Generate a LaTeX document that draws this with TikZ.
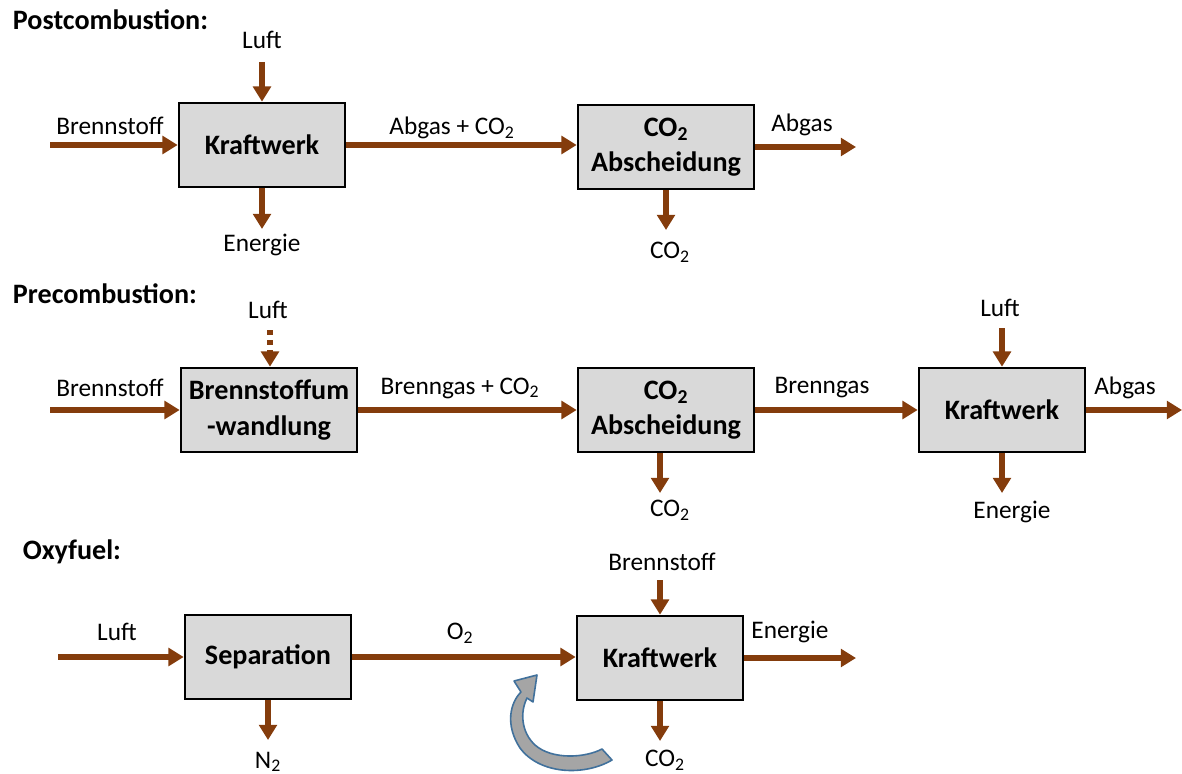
\documentclass[tikz,border=0pt]{standalone}
\usepackage{fontspec}
\setmainfont{Carlito}
\usetikzlibrary{arrows.meta}

\definecolor{flowbrown}{HTML}{843C0C}
\definecolor{boxgray}{HTML}{D9D9D9}
\definecolor{turngray}{HTML}{A5A5A5}
\definecolor{turnblue}{HTML}{41719C}

\begin{document}
\begin{tikzpicture}[%
        x = 0.025cm,
        y = -0.025cm,
        flow/.style = {
            draw = flowbrown,
            line width = 1.3mm,
            -{Triangle[width = 4.4mm, length = 3.8mm]}
        },
        block/.style = {
            draw,
            line width = 0.65mm,
            fill = boxgray,
            minimum width = 4.15cm,
            minimum height = 2.1cm,
            align = center,
            font = \fontsize{20}{25}\selectfont\bfseries
        },
        wideblock/.style = {block, minimum width = 4.4cm},
        label/.style = {font = \fontsize{18}{22}\selectfont},
        heading/.style = {anchor = west, font = \fontsize{20}{24}\selectfont\bfseries}
    ]

        \useasboundingbox (0, 0) rectangle (1182, 774);

        % Postcombustion.
        \node[heading] (head1) at (8, 20) {Postcombustion:};
        \node[block] (kw1) at (262, 145) {Kraftwerk};
        \node[wideblock] (ab1) at (666, 147) {CO\textsubscript{2}\\Abscheidung};

        \coordinate (in1) at (50, 145);
        \coordinate (luft1) at (262, 62);
        \coordinate (en1) at (262, 229);
        \coordinate (out1) at (856, 147);
        \coordinate (co1) at (666, 230);

        \draw[flow] (in1) to (kw1.west);
        \draw[flow] (luft1) to (kw1.north);
        \draw[flow] (kw1.south) to (en1);
        \draw[flow] (kw1.east) to (kw1.east -| ab1.west);
        \draw[flow] (ab1.east) to (out1);
        \draw[flow] (ab1.south) to (co1);

        \node[label] (l1a) at (110, 126) {Brennstoff};
        \node[label] (l1b) at (262, 40) {Luft};
        \node[label] (l1c) at (262, 245) {Energie};
        \node[label] (l1d) at (452, 128) {Abgas + CO\textsubscript{2}};
        \node[label] (l1e) at (802, 125) {Abgas};
        \node[label] (l1f) at (670, 252) {CO\textsubscript{2}};

        % Precombustion.
        \node[heading] (head2) at (8, 294) {Precombustion:};
        \node[wideblock] (wd2) at (269, 410) {Brennstoffum\\-wandlung};
        \node[wideblock] (ab2) at (666, 410) {CO\textsubscript{2}\\Abscheidung};
        \node[block] (kw2) at (1002, 410) {Kraftwerk};

        \coordinate (in2) at (50, 410);
        \coordinate (luft2) at (270, 330);
        \coordinate (co2) at (660, 493);
        \coordinate (luft3) at (1002, 328);
        \coordinate (en2) at (1002, 493);
        \coordinate (out2) at (1182, 410);

        \draw[flow] (in2) to (wd2.west);
        \draw[flow, dash pattern = on 1.3mm off 1.2mm] (luft2) to (luft2 |- wd2.north);
        \draw[flow] (wd2.east) to (ab2.west);
        \draw[flow] (ab2.south -| co2) to (co2);
        \draw[flow] (ab2.east) to (kw2.west);
        \draw[flow] (luft3) to (kw2.north);
        \draw[flow] (kw2.south) to (en2);
        \draw[flow] (kw2.east) to (out2);

        \node[label] (l2a) at (110, 388) {Brennstoff};
        \node[label] (l2b) at (268, 310) {Luft};
        \node[label] (l2c) at (460, 388) {Brenngas + CO\textsubscript{2}};
        \node[label] (l2d) at (670, 510) {CO\textsubscript{2}};
        \node[label] (l2e) at (822, 388) {Brenngas};
        \node[label] (l2f) at (1000, 308) {Luft};
        \node[label] (l2g) at (1012, 512) {Energie};
        \node[label] (l2h) at (1125, 388) {Abgas};

        % Oxyfuel.
        \node[heading] (head3) at (18, 552) {Oxyfuel:};
        \node[block] (sp3) at (268, 657) {Separation};
        \node[block] (kw3) at (660, 658) {Kraftwerk};

        \coordinate (in3) at (58, 657);
        \coordinate (bs3) at (660, 580);
        \coordinate (n3) at (268, 740);
        \coordinate (co3) at (660, 741);
        \coordinate (out3) at (856, 658);

        \draw[flow] (in3) to (sp3.west);
        \draw[flow] (sp3.south) to (n3);
        \draw[flow] (sp3.east) to (sp3.east -| kw3.west);
        \draw[flow] (bs3) to (kw3.north);
        \draw[flow] (kw3.south) to (co3);
        \draw[flow] (kw3.east) to (out3);

        \node[label] (l3a) at (117, 632) {Luft};
        \node[label] (l3b) at (268, 762) {N\textsubscript{2}};
        \node[label] (l3c) at (460, 633) {O\textsubscript{2}};
        \node[label] (l3d) at (662, 562) {Brennstoff};
        \node[label] (l3e) at (790, 632) {Energie};
        \node[label] (l3f) at (665, 760) {CO\textsubscript{2}};

        % Curved return arrow below the oxyfuel line.
        \draw[turnblue, fill = turngray, line width = 0.4mm, line join = round]
            (612, 760) .. controls (585, 776) and (540, 775) .. (520, 748)
            .. controls (505, 725) and (510, 703) .. (521, 692)
            to (514, 681) to (537, 675) to (533, 702)
            to (527, 698)
            .. controls (520, 712) and (521, 732) .. (535, 745)
            .. controls (552, 760) and (585, 758) .. (602, 749)
            -- cycle;
    \end{tikzpicture}
\end{document}
